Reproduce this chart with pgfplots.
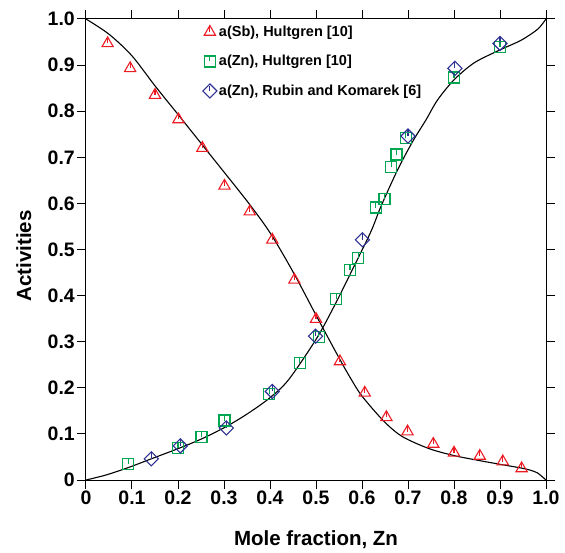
\documentclass[border=0pt]{standalone}
\usepackage{fontspec}
\setmainfont{Liberation Sans}
\usepackage{pgfplots}
\pgfplotsset{compat=1.18}
\definecolor{mred}{RGB}{237,28,36}
\definecolor{mgreen}{RGB}{0,166,80}
\definecolor{mblue}{RGB}{46,49,146}
\begin{document}
\begin{tikzpicture}
\path[use as bounding box] (-86pt,-72pt) rectangle (479pt,480pt);
\begin{axis}[
  scale only axis, width=460pt, height=461pt,
  xmin=0, xmax=1, ymin=0, ymax=1,
  tick align=outside, major tick length=9pt,
  xtick={0,0.1,0.2,0.3,0.4,0.5,0.6,0.7,0.8,0.9,1},
  ytick={0,0.1,0.2,0.3,0.4,0.5,0.6,0.7,0.8,0.9,1},
  xticklabels={0,0.1,0.2,0.3,0.4,0.5,0.6,0.7,0.8,0.9,1.0},
  yticklabels={0,0.1,0.2,0.3,0.4,0.5,0.6,0.7,0.8,0.9,1.0},
  /pgf/number format/assume math mode=true,
  tick label style={font=\bfseries\fontsize{19.5}{19.5}\selectfont},
  xticklabel style={inner sep=2pt},
  yticklabel style={inner sep=2pt},
  xlabel={Mole fraction, Zn}, ylabel={Activities},
  label style={font=\bfseries\fontsize{20.5}{21}\selectfont},
  x label style={at={(axis description cs:0.5,-0.13)}, anchor=center},
  y label style={at={(axis description cs:-0.135,0.486)}, anchor=center, rotate=0},
  axis line style={line width=1pt},
  tick style={line width=1pt, black},
  legend style={at={(0.247,0.994)}, anchor=north west, draw=none, fill=none,
    font=\bfseries\fontsize{14.5}{16}\selectfont, row sep=13.5pt},
  legend cell align=left,
  legend image code/.code={\draw[#1] plot coordinates {(0cm,0cm)}; \draw[#1,line width=1.1pt] (0cm,0cm)--(0cm,5pt);},
]
\addplot[black, line width=1.1pt, smooth, tension=0.5, forget plot] coordinates {
(0,1.0) (0.05,0.967) (0.1,0.92) (0.15,0.855) (0.2,0.793) (0.256,0.723) (0.3,0.668) (0.354,0.6) (0.401,0.535) (0.452,0.448) (0.503,0.352) (0.55,0.265) (0.575,0.221) (0.6,0.182) (0.648,0.127) (0.688,0.094) (0.746,0.068) (0.8,0.053) (0.856,0.042) (0.906,0.033) (0.946,0.026) (0.967,0.021) (0.982,0.015) (1.0,0)
};
\addplot[black, line width=1.1pt, smooth, tension=0.5, forget plot] coordinates {
(0,0) (0.044,0.011) (0.092,0.027) (0.15,0.049) (0.2,0.068) (0.251,0.089) (0.305,0.116) (0.35,0.143) (0.398,0.177) (0.44,0.217) (0.5,0.305) (0.539,0.376) (0.575,0.448) (0.619,0.538) (0.641,0.593) (0.677,0.672) (0.71,0.734) (0.739,0.781) (0.764,0.824) (0.8,0.868) (0.844,0.905) (0.9,0.933) (0.946,0.954) (0.982,0.978) (1.0,1.0)
};
\addplot[only marks, mark=triangle, mark size=6.5pt, color=mred, mark options={line width=1.1pt},
  error bars/y dir=plus, error bars/y fixed=0.012, error bars/error mark=none,
  error bars/error bar style={line width=1.1pt}] coordinates {
(0.047,0.947) (0.096,0.893) (0.15,0.835) (0.201,0.782) (0.253,0.72) (0.301,0.638) (0.356,0.582) (0.405,0.521) (0.453,0.434) (0.5,0.349) (0.552,0.257) (0.606,0.189) (0.653,0.136) (0.699,0.105) (0.755,0.078) (0.8,0.059) (0.856,0.052) (0.906,0.04) (0.947,0.025)
};
\addlegendentry{a(Sb), Hultgren [10]}
\addplot[only marks, mark=square, mark size=5.5pt, color=mgreen, mark options={line width=1.1pt},
  error bars/y dir=plus, error bars/y fixed=0.012, error bars/error mark=none,
  error bars/error bar style={line width=1.1pt}] coordinates {
(0.092,0.035) (0.2,0.069) (0.251,0.093) (0.301,0.129) (0.398,0.187) (0.465,0.254) (0.506,0.31) (0.544,0.392) (0.574,0.456) (0.592,0.481) (0.63,0.591) (0.649,0.609) (0.664,0.678) (0.675,0.706) (0.695,0.741) (0.8,0.873) (0.9,0.939)
};
\addlegendentry{a(Zn), Hultgren [10]}
\addplot[only marks, mark=square, mark size=5pt, color=mblue, mark options={line width=1.1pt, rotate=45},
  error bars/y dir=plus, error bars/y fixed=0.014, error bars/error mark=none,
  error bars/error bar style={line width=1.1pt}] coordinates {
(0.142,0.046) (0.205,0.074) (0.305,0.113) (0.405,0.192) (0.499,0.312) (0.601,0.521) (0.7,0.746) (0.802,0.893) (0.9,0.947)
};
\addlegendentry{a(Zn), Rubin and Komarek [6]}
\end{axis}
\end{tikzpicture}
\end{document}
